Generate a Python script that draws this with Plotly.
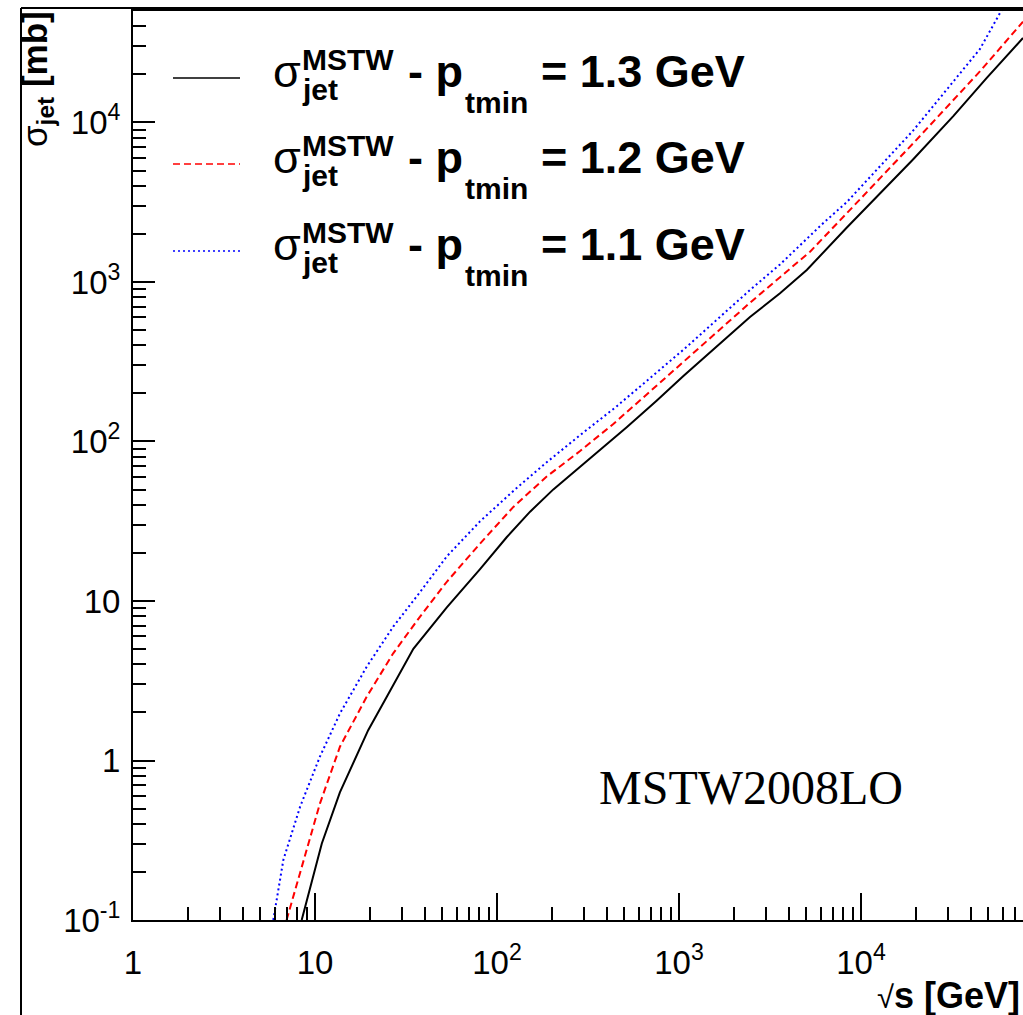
import plotly.graph_objects as go

# ---------------- data ----------------
sqrt_s_13 = [8.45, 10.9, 13.7, 16.6, 19.6, 24.8, 29.5, 34.7, 53.0, 80.7, 113, 152, 204, 286,
             401, 516, 753, 1057, 2455, 3589, 5035, 8337, 19364, 32140, 49090, 77625]
sigma_13 = [0.1, 0.302, 0.631, 1.023, 1.549, 2.512, 3.631, 5.012, 9.12, 15.85, 25.1, 36.3, 50.1,
            69.2, 95.5, 123, 180, 257, 603, 851, 1189, 2188, 5888, 10965, 19055, 33884]

sqrt_s_12 = [6.98, 8.28, 10.64, 13.71, 19.23, 26.9, 37.7, 53.0, 80.7, 123, 187.5, 286, 435.5, 573,
             1057, 2455, 3589, 5250, 8337, 19364, 44978, 77625]
sigma_12 = [0.1, 0.1995, 0.537, 1.22, 2.51, 4.70, 7.96, 13.2, 22.9, 38.9, 60.3, 87.1, 128.8, 169.8,
            316, 741, 1072, 1549, 2692, 7413, 20893, 42855]

sqrt_s_11 = [5.90, 6.70, 8.28, 10.64, 13.71, 19.23, 26.9, 36.3, 53.0, 80.7, 123, 187.5, 286, 454,
             1057, 2455, 3589, 6209, 8337, 19364, 44978, 60256]
sigma_11 = [0.1, 0.238, 0.513, 1.057, 1.972, 3.873, 6.902, 10.72, 19.05, 31.6, 49.0, 74.1, 109.6,
            166, 375.8, 891, 1288, 2344, 3162, 8913, 28840, 52481]

ptmin_labels = ["1.3", "1.2", "1.1"]

x_tickvals = [1, 10, 100, 1000, 10000]
x_ticktext = ["1", "10", "10<sup>2</sup>", "10<sup>3</sup>", "10<sup>4</sup>"]
y_tickvals = [0.1, 1, 10, 100, 1000, 10000]
y_ticktext = ["10<sup>-1</sup>", "1", "10", "10<sup>2</sup>", "10<sup>3</sup>", "10<sup>4</sup>"]

x_minor = [k * 10 ** d for d in range(0, 5) for k in range(2, 10)]
y_minor = [k * 10.0 ** d for d in range(-1, 5) for k in range(2, 10)]

# ---------------- layout helpers ----------------
W, H = 1023, 1015
L, R, T, B = 133, 1023, 11, 920


def px(xp):
    return (xp - L) / (R - L)


def py(yp):
    return (B - yp) / (B - T)


SANS = "Liberation Sans, Arial, Helvetica, sans-serif"
SERIF = "Liberation Serif, Times New Roman, serif"

styles = [
    dict(color="#000000", width=2, dash="solid"),
    dict(color="#ff0000", width=2, dash="7px,4px"),
    dict(color="#0000ff", width=2, dash="2px,3px"),
]

fig = go.Figure()
for xs, ys, st in [(sqrt_s_13, sigma_13, styles[0]),
                   (sqrt_s_12, sigma_12, styles[1]),
                   (sqrt_s_11, sigma_11, styles[2])]:
    fig.add_trace(go.Scatter(x=xs, y=ys, mode="lines", line=st, showlegend=False,
                             hoverinfo="skip"))

axis_common = dict(
    type="log", showgrid=False, zeroline=False, showline=True,
    linecolor="black", linewidth=2, ticks="inside", tickcolor="black",
    tickwidth=1.5, tickmode="array",
    tickfont=dict(family=SANS, size=33, color="black"),
)

fig.update_xaxes(**axis_common, range=[0, 4.89], mirror=True, ticklen=27,
                 tickvals=x_tickvals, ticktext=x_ticktext, ticklabelstandoff=12,
                 minor=dict(tickvals=x_minor, ticks="inside", ticklen=13,
                            tickwidth=1.5, tickcolor="black", showgrid=False))
fig.update_yaxes(**axis_common, range=[-1, 4.699], mirror=False, ticklen=22,
                 tickvals=y_tickvals, ticktext=y_ticktext, ticklabelstandoff=4,
                 minor=dict(tickvals=y_minor, ticks="inside", ticklen=13,
                            tickwidth=1.5, tickcolor="black", showgrid=False))

annotations = []
shapes = []

# canvas border (top and left)
shapes.append(dict(type="line", xref="paper", yref="paper", x0=px(21), x1=px(1023),
                   y0=py(8), y1=py(8), line=dict(color="black", width=2)))
shapes.append(dict(type="line", xref="paper", yref="paper", x0=px(21), x1=px(21),
                   y0=py(8), y1=py(1015), line=dict(color="black", width=2)))

# legend (drawn by hand, ROOT-style)
row_line_y = [78, 164, 251]
for i, lab in enumerate(ptmin_labels):
    ly = row_line_y[i]
    base = ly + 9
    st = styles[i]
    shapes.append(dict(type="line", xref="paper", yref="paper", x0=px(173), x1=px(240),
                       y0=py(ly), y1=py(ly),
                       line=dict(color=st["color"], width=1.5, dash=st["dash"])))
    pieces = [
        ("σ", 272, base - 0.35 * 45, 45, False),
        ("MSTW", 301, base - 17 - 0.35 * 30, 30, True),
        ("jet", 301, base + 13 - 0.35 * 30, 30, True),
        ("- p", 407, base - 0.35 * 45, 45, True),
        ("tmin", 464, base + 26 - 0.35 * 30, 30, True),
        ("= " + lab + " GeV", 540, base - 0.35 * 45, 45, True),
    ]
    for txt, x0, yc, fs, bold in pieces:
        annotations.append(dict(
            text=("<b>%s</b>" % txt) if bold else txt, xref="paper", yref="paper",
            x=px(x0), y=py(yc), xanchor="left", yanchor="middle", showarrow=False,
            borderpad=0, font=dict(family=SANS, size=fs, color="black")))

# MSTW2008LO label
annotations.append(dict(text="MSTW2008LO", xref="paper", yref="paper",
                        x=px(751), y=py(787), xanchor="center", yanchor="middle",
                        showarrow=False, font=dict(family=SERIF, size=48, color="black")))

# axis titles (ROOT places them at the axis ends)
annotations.append(dict(text="σ<b><sub>jet</sub> [mb]</b>", xref="paper", yref="paper",
                        x=px(37), y=py(10), xanchor="center", yanchor="top",
                        textangle=-90, showarrow=False, borderpad=0,
                        font=dict(family=SANS, size=35, color="black")))
annotations.append(dict(text="<span style='font-size:31px'>√</span><b>s [GeV]</b>",
                        xref="paper", yref="paper",
                        x=px(1021), y=py(995), xanchor="right", yanchor="middle",
                        showarrow=False, borderpad=0,
                        font=dict(family=SANS, size=36, color="black")))

fig.update_layout(
    width=W, height=H,
    margin=dict(l=L, r=W - R, t=T, b=H - B, pad=0),
    plot_bgcolor="white", paper_bgcolor="white",
    showlegend=False,
    annotations=annotations, shapes=shapes,
)

fig.write_html("out.html")
